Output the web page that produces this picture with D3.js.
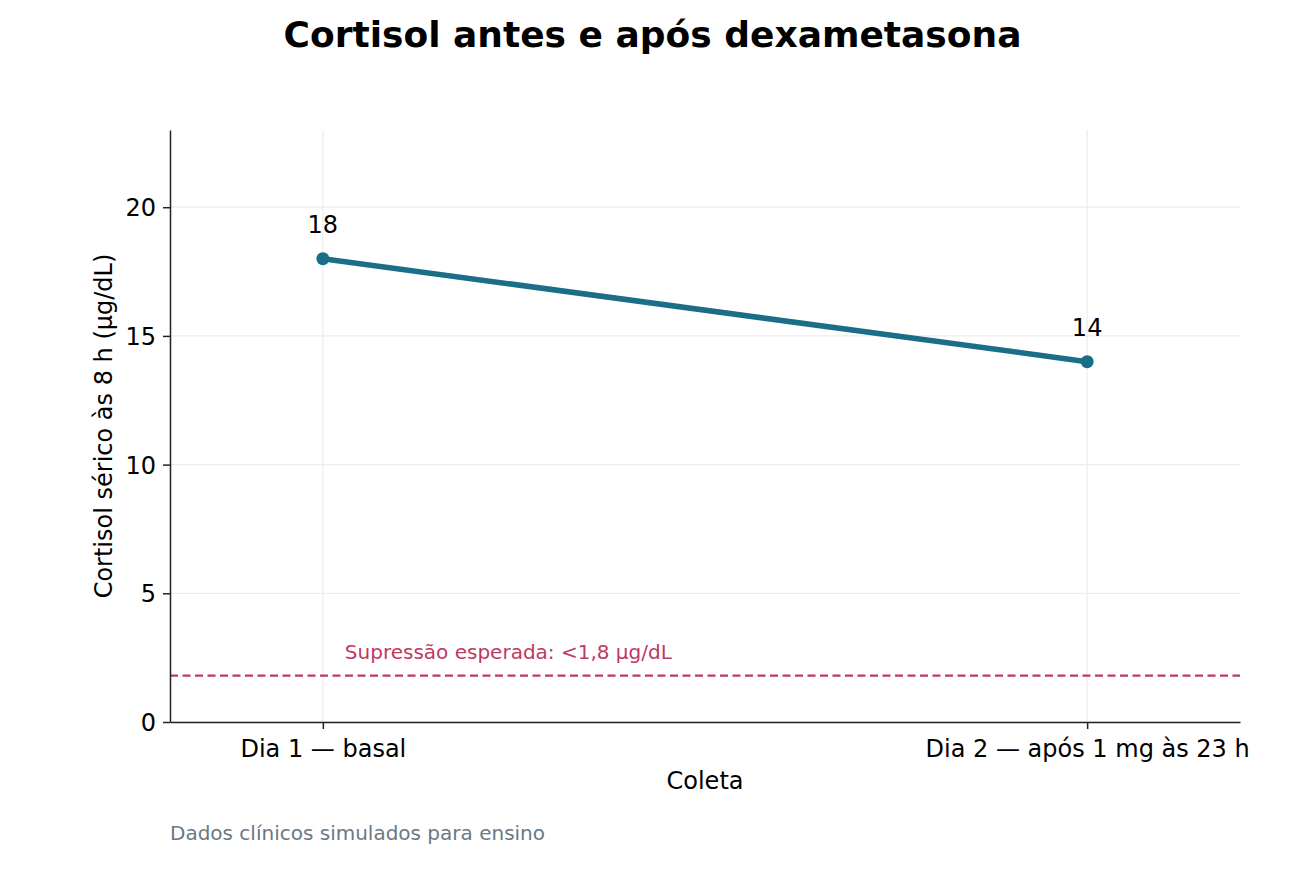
<!DOCTYPE html>
<html>
<head>
<meta charset="utf-8">
<script src="https://cdn.jsdelivr.net/npm/d3@7"></script>
<style>
  body { margin: 0; background: #fff; }
  text { font-family: "DejaVu Sans", sans-serif; }
</style>
</head>
<body>
<svg id="chart"></svg>
<script>
// data
const coletas = ["Dia 1 — basal", "Dia 2 — após 1 mg às 23 h"];
const cortisol = [18, 14];
const yTicks = [0, 5, 10, 15, 20];
const limiar = 1.8;

const W = 1305, H = 870;
const margin = { top: 130, right: 65, bottom: 148, left: 170 };
const width = W - margin.left - margin.right;
const height = H - margin.top - margin.bottom;

const colors = { line: "#1a6e87", limiar: "#bf3a5f", grid: "#ececec", axis: "#222" };

const svg = d3.select("#chart").attr("width", W).attr("height", H);

// title
svg.append("text")
    .attr("x", W / 2)
    .attr("y", 47)
    .attr("text-anchor", "middle")
    .style("font-size", "36px")
    .style("font-weight", "bold")
    .text("Cortisol antes e após dexametasona");

const g = svg.append("g").attr("transform", `translate(${margin.left},${margin.top})`);

// x is an index scale with 0.2 padding on each side, like matplotlib margins
const xScale = d3.scaleLinear().domain([-0.2, coletas.length - 1 + 0.2]).range([0, width]);
const yScale = d3.scaleLinear().domain([0, 23]).range([height, 0]);

// grid
g.selectAll(".hgrid")
    .data(yTicks)
    .enter().append("line")
    .attr("x1", 0).attr("x2", width)
    .attr("y1", d => yScale(d)).attr("y2", d => yScale(d))
    .attr("stroke", colors.grid).attr("stroke-width", 1.2);

g.selectAll(".vgrid")
    .data(coletas)
    .enter().append("line")
    .attr("x1", (d, i) => xScale(i)).attr("x2", (d, i) => xScale(i))
    .attr("y1", 0).attr("y2", height)
    .attr("stroke", colors.grid).attr("stroke-width", 1.2);

// threshold line
g.append("line")
    .attr("x1", 0).attr("x2", width)
    .attr("y1", yScale(limiar)).attr("y2", yScale(limiar))
    .attr("stroke", colors.limiar)
    .attr("stroke-width", 2.2)
    .attr("stroke-dasharray", "8,4.5");

g.append("text")
    .attr("x", xScale(0) + 22)
    .attr("y", yScale(limiar) - 17)
    .attr("fill", colors.limiar)
    .style("font-size", "20px")
    .text("Supressão esperada: <1,8 µg/dL");

// line and points
const pts = cortisol.map((v, i) => ({ i: i, v: v }));

g.append("path")
    .datum(pts)
    .attr("fill", "none")
    .attr("stroke", colors.line)
    .attr("stroke-width", 5.5)
    .attr("d", d3.line().x(d => xScale(d.i)).y(d => yScale(d.v)));

g.selectAll(".pt")
    .data(pts)
    .enter().append("circle")
    .attr("cx", d => xScale(d.i))
    .attr("cy", d => yScale(d.v))
    .attr("r", 6.5)
    .attr("fill", colors.line);

g.selectAll(".lbl")
    .data(pts)
    .enter().append("text")
    .attr("x", d => xScale(d.i))
    .attr("y", d => yScale(d.v) - 26)
    .attr("text-anchor", "middle")
    .style("font-size", "24px")
    .text(d => d.v);

// axes
const xAxis = g.append("g")
    .attr("transform", `translate(0,${height})`)
    .call(d3.axisBottom(xScale)
        .tickValues(d3.range(coletas.length))
        .tickFormat(i => coletas[i])
        .tickSize(7).tickSizeOuter(0).tickPadding(8));

const yAxis = g.append("g")
    .call(d3.axisLeft(yScale)
        .tickValues(yTicks)
        .tickSize(7).tickSizeOuter(0).tickPadding(7));

[xAxis, yAxis].forEach(a => {
    a.select(".domain").attr("stroke", colors.axis).attr("stroke-width", 1.5);
    a.selectAll(".tick line").attr("stroke", colors.axis).attr("stroke-width", 1.5);
    a.selectAll(".tick text")
        .attr("fill", "#000")
        .style("font-family", "DejaVu Sans, sans-serif")
        .style("font-size", "24px");
});
xAxis.selectAll(".tick text").attr("dy", "0.85em");
yAxis.selectAll(".tick text").attr("dy", "0.36em");

// axis labels
g.append("text")
    .attr("x", width / 2)
    .attr("y", height + 67)
    .attr("text-anchor", "middle")
    .style("font-size", "24px")
    .text("Coleta");

g.append("text")
    .attr("transform", "rotate(-90)")
    .attr("x", -height / 2)
    .attr("y", -58)
    .attr("text-anchor", "middle")
    .style("font-size", "24px")
    .text("Cortisol sérico às 8 h (µg/dL)");

// footer note
svg.append("text")
    .attr("x", margin.left)
    .attr("y", 840)
    .attr("fill", "#6b7885")
    .style("font-size", "20px")
    .text("Dados clínicos simulados para ensino");
</script>
</body>
</html>
